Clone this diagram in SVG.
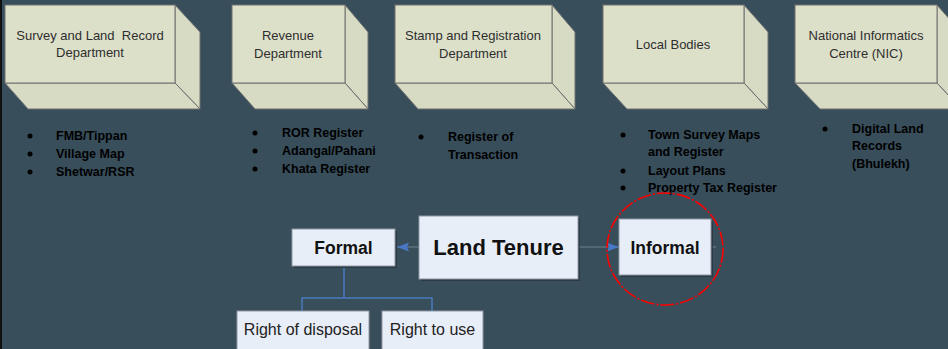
<svg xmlns="http://www.w3.org/2000/svg" width="948" height="349" viewBox="0 0 948 349">
<defs>
<style>
.face{fill:#DDE0C9;stroke:#707070;stroke-width:1}
.side{fill:#D8DBC3;stroke:#707070;stroke-width:1}
.hdr{font-family:"Liberation Sans",Arial,sans-serif;font-size:13px;fill:#2E2E2E;text-anchor:middle}
.bul{font-family:"Liberation Sans",Arial,sans-serif;font-size:12.5px;font-weight:bold;fill:#000}
.nb{fill:#E8EEF8;stroke:#9098A4;stroke-width:1}
.shadow{fill:#222C33;opacity:0.6}
.big{font-family:"Liberation Sans",Arial,sans-serif;font-weight:bold;fill:#111;text-anchor:middle}
.sm{font-family:"Liberation Sans",Arial,sans-serif;font-size:16px;fill:#222;text-anchor:middle}
.conn{stroke:#6F8290;stroke-width:1;fill:none}
.tree{stroke:#4A78C0;stroke-width:1.5;fill:none}
</style>
<marker id="ah" viewBox="0 0 12 10" refX="12" refY="5" markerWidth="13" markerHeight="10" markerUnits="userSpaceOnUse" orient="auto">
<path d="M0,0.5 L12,5 L0,9.5 L2,5 z" fill="#4A78C8"/>
</marker>
</defs>
<rect width="948" height="349" fill="#384E5B"/>
<rect width="2" height="349" fill="#111"/>

<g id="dept-survey">
<polygon class="side" points="175,5 200,32 200,109 175,83"/>
<polygon class="side" points="5,83 175,83 200,109 28,109"/>
<rect class="face" x="5" y="5" width="170" height="78"/>
<text class="hdr" x="90" y="40" xml:space="preserve">Survey and Land  Record</text>
<text class="hdr" x="90" y="57">Department</text>
</g>
<g id="dept-revenue">
<polygon class="side" points="345,5 368,32 368,109 345,83"/>
<polygon class="side" points="232,83 345,83 368,109 255,109"/>
<rect class="face" x="232" y="5" width="113" height="78"/>
<text class="hdr" x="288" y="40">Revenue</text>
<text class="hdr" x="288" y="58">Department</text>
</g>
<g id="dept-stamp">
<polygon class="side" points="552,5 575,32 575,109 552,83"/>
<polygon class="side" points="395,83 552,83 575,109 418,109"/>
<rect class="face" x="395" y="5" width="157" height="78"/>
<text class="hdr" x="473" y="40">Stamp and Registration</text>
<text class="hdr" x="473" y="58">Department</text>
</g>
<g id="dept-local">
<polygon class="side" points="744,5 768,32 768,109 744,83"/>
<polygon class="side" points="603,83 744,83 768,109 627,109"/>
<rect class="face" x="603" y="5" width="141" height="78"/>
<text class="hdr" x="673" y="49">Local Bodies</text>
</g>
<g id="dept-nic">
<polygon class="side" points="937,5 961,32 961,109 937,83"/>
<polygon class="side" points="795,83 937,83 961,109 820,109"/>
<rect class="face" x="795" y="5" width="142" height="78"/>
<text class="hdr" x="866" y="40">National Informatics</text>
<text class="hdr" x="866" y="58">Centre (NIC)</text>
</g>

<g id="list-survey">
<circle cx="30" cy="136" r="2.5"/><text class="bul" x="56" y="140">FMB/Tippan</text>
<circle cx="30" cy="154" r="2.5"/><text class="bul" x="56" y="158">Village Map</text>
<circle cx="30" cy="172" r="2.5"/><text class="bul" x="56" y="176">Shetwar/RSR</text>
</g>
<g id="list-revenue">
<circle cx="255" cy="133" r="2.5"/><text class="bul" x="282" y="137">ROR Register</text>
<circle cx="255" cy="151" r="2.5"/><text class="bul" x="282" y="155">Adangal/Pahani</text>
<circle cx="255" cy="169" r="2.5"/><text class="bul" x="282" y="173">Khata Register</text>
</g>
<g id="list-stamp">
<circle cx="421" cy="137" r="2.5"/><text class="bul" x="448" y="141">Register of</text>
<text class="bul" x="448" y="159">Transaction</text>
</g>
<g id="list-local">
<circle cx="623" cy="135" r="2.5"/><text class="bul" x="648" y="139">Town Survey Maps</text>
<text class="bul" x="648" y="156">and Register</text>
<circle cx="623" cy="171" r="2.5"/><text class="bul" x="648" y="175">Layout Plans</text>
<circle cx="623" cy="188" r="2.5"/><text class="bul" x="648" y="192">Property Tax Register</text>
</g>
<g id="list-nic">
<circle cx="825" cy="129" r="2.5"/><text class="bul" x="852" y="133">Digital Land</text>
<text class="bul" x="852" y="150">Records</text>
<text class="bul" x="852" y="168">(Bhulekh)</text>
</g>

<g id="connectors">
<line class="conn" x1="419" y1="247" x2="397" y2="247" marker-end="url(#ah)"/>
<line class="conn" x1="578" y1="247" x2="619" y2="247" marker-end="url(#ah)"/>
<line class="conn" x1="711" y1="247" x2="716" y2="247"/>
<polyline class="tree" points="344,268 344,298"/>
<polyline class="tree" points="302,311 302,298 432,298 432,311"/>
</g>

<g id="land-tenure">
<rect class="shadow" x="421" y="218" width="159" height="63"/>
<rect class="nb" x="419" y="216" width="159" height="63"/>
<text class="big" x="498.5" y="255" font-size="22">Land Tenure</text>
</g>
<g id="formal">
<rect class="shadow" x="294" y="231" width="103" height="37"/>
<rect class="nb" x="292" y="229" width="103" height="37"/>
<text class="big" x="343.5" y="253.5" font-size="17.5">Formal</text>
</g>
<g id="informal">
<rect class="shadow" x="621" y="221" width="92" height="56"/>
<rect class="nb" x="619" y="219" width="92" height="56"/>
<text class="big" x="665" y="253.5" font-size="17.5">Informal</text>
</g>
<g id="right-disposal">
<rect class="nb" x="237" y="311" width="132" height="40"/>
<text class="sm" x="303" y="335">Right of disposal</text>
</g>
<g id="right-use">
<rect class="nb" x="382" y="311" width="101" height="40"/>
<text class="sm" x="432.5" y="335">Right to use</text>
</g>
<g id="highlight">
<ellipse cx="665" cy="249" rx="58" ry="56" fill="none" stroke="#FF0000" stroke-width="1.6" stroke-dasharray="14,2,2,2"/>
</g>
</svg>
